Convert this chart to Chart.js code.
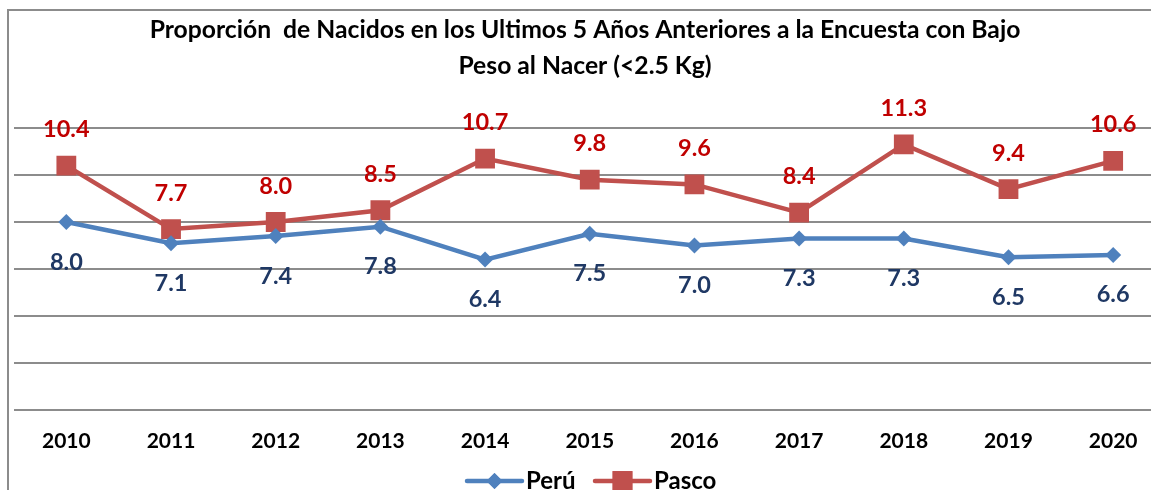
<!DOCTYPE html>
<html>
<head>
<meta charset="utf-8">
<script src="https://cdn.jsdelivr.net/npm/chart.js@4/dist/chart.umd.min.js"></script>
<style>
html,body{margin:0;padding:0;background:#fff;overflow:hidden;}
#wrap{width:1180px;height:490px;}
</style>
</head>
<body>
<div id="wrap"><canvas id="c" width="1180" height="490"></canvas></div>
<script>
const categories = ['2010','2011','2012','2013','2014','2015','2016','2017','2018','2019','2020'];
const peru = [8.0, 7.1, 7.4, 7.8, 6.4, 7.5, 7.0, 7.3, 7.3, 6.5, 6.6];
const pasco = [10.4, 7.7, 8.0, 8.5, 10.7, 9.8, 9.6, 8.4, 11.3, 9.4, 10.6];
const titleLines = ['Proporción  de Nacidos en los Ultimos 5 Años Anteriores a la Encuesta con Bajo', 'Peso al Nacer (<2.5 Kg)'];
const seriesNames = ['Perú', 'Pasco'];

const FONT = 'Lato, "Open Sans", sans-serif';
const W = 'bold';
const BLUE = '#4F81BD', RED = '#C0504D';

const framePlugin = {
  id: 'frame',
  beforeDraw(chart) {
    const ctx = chart.ctx;
    ctx.save();
    ctx.fillStyle = '#fff';
    ctx.fillRect(0, 0, chart.width, chart.height);
    ctx.strokeStyle = '#8c8c8c';
    ctx.lineWidth = 2;
    ctx.strokeRect(8, 10, chart.width + 50, chart.height + 50);
    ctx.restore();
  },
  afterDraw(chart) {
    const ctx = chart.ctx;
    ctx.save();
    // title
    ctx.fillStyle = '#000';
    ctx.textAlign = 'center';
    ctx.textBaseline = 'middle';
    ctx.font = W + ' 24.7px ' + FONT;
    ctx.fillText(titleLines[0], 585, 30);
    ctx.fillText(titleLines[1], 585, 66);
    // data labels
    ctx.font = W + ' 23.5px ' + FONT;
    const m0 = chart.getDatasetMeta(0), m1 = chart.getDatasetMeta(1);
    ctx.fillStyle = '#1F3864';
    m0.data.forEach((p, i) => ctx.fillText(peru[i].toFixed(1), p.x, p.y + 40));
    ctx.fillStyle = '#C00000';
    m1.data.forEach((p, i) => ctx.fillText(pasco[i].toFixed(1), p.x, p.y - 36));
    // legend
    const ly = 481;
    const items = [
      {x: 467, color: BLUE, style: 'rectRot', r: 8, name: seriesNames[0]},
      {x: 595, color: RED, style: 'rect', r: 14, name: seriesNames[1]}
    ];
    items.forEach(it => {
      ctx.strokeStyle = it.color;
      ctx.lineWidth = 4.5;
      ctx.lineCap = 'round';
      ctx.beginPath();
      ctx.moveTo(it.x, ly);
      ctx.lineTo(it.x + 55, ly);
      ctx.stroke();
      ctx.fillStyle = it.color;
      Chart.helpers.drawPoint(ctx, {pointStyle: it.style, radius: it.r, borderWidth: 0}, it.x + 27.5, ly);
      ctx.fill();
      ctx.fillStyle = '#000';
      ctx.textAlign = 'left';
      ctx.font = W + ' 24px ' + FONT;
      ctx.fillText(it.name, it.x + 59, ly);
    });
    ctx.restore();
  }
};

new Chart(document.getElementById('c'), {
  type: 'line',
  data: {
    labels: categories,
    datasets: [
      {label: seriesNames[0], data: peru, borderColor: BLUE, backgroundColor: BLUE, borderWidth: 4.5,
       pointStyle: 'rectRot', pointRadius: 8, pointHoverRadius: 8, pointBorderWidth: 0, tension: 0},
      {label: seriesNames[1], data: pasco, borderColor: RED, backgroundColor: RED, borderWidth: 4.5,
       pointStyle: 'rect', pointRadius: 14, pointHoverRadius: 14, pointBorderWidth: 0, tension: 0}
    ]
  },
  options: {
    responsive: false,
    animation: false,
    events: [],
    layout: {padding: {left: 10.5, right: 14.5, top: 128, bottom: 35}},
    plugins: {legend: {display: false}, title: {display: false}, tooltip: {enabled: false}},
    scales: {
      x: {
        offset: true,
        grid: {display: false, drawTicks: false},
        border: {display: false},
        ticks: {color: '#000', font: {family: FONT, weight: W, size: 21}, padding: 19, maxRotation: 0, autoSkip: false},
        afterFit(s) { s.height = 45; }
      },
      y: {
        min: 0, max: 12,
        ticks: {display: false, stepSize: 2},
        grid: {color: '#8c8c8c', lineWidth: 2, drawTicks: false},
        border: {display: false},
        afterFit(s) { s.width = 0; }
      }
    }
  },
  plugins: [framePlugin]
});
</script>
</body>
</html>
